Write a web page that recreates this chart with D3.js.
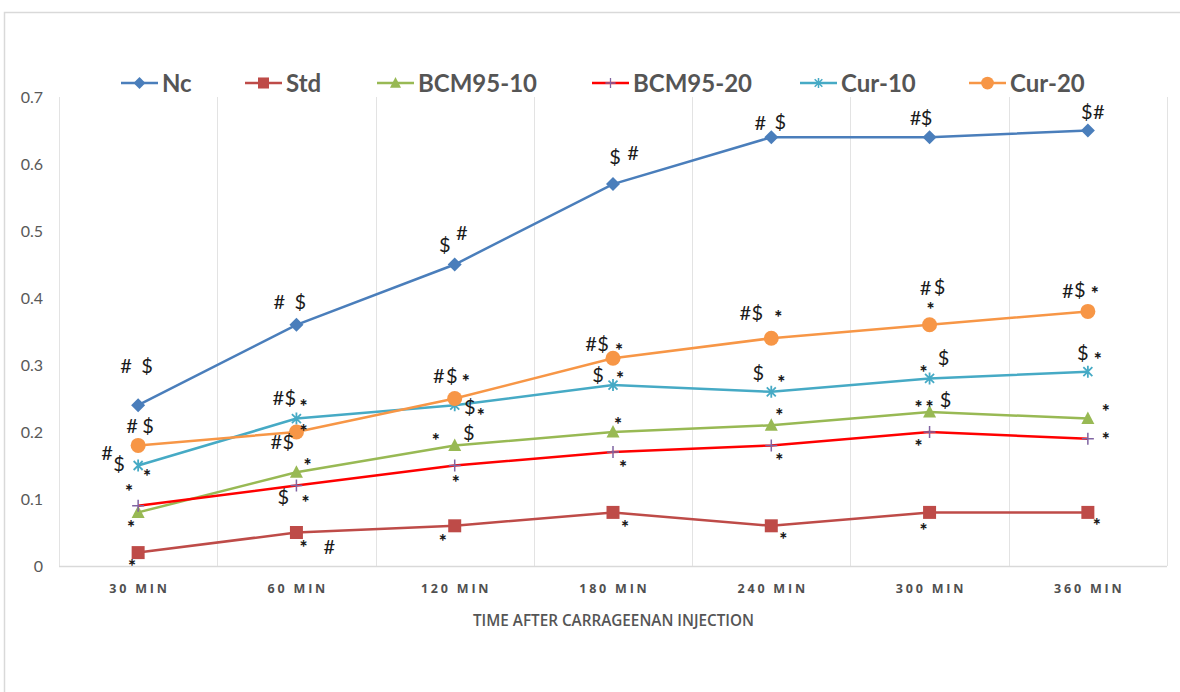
<!DOCTYPE html>
<html>
<head>
<meta charset="utf-8">
<script src="https://cdn.jsdelivr.net/npm/d3@7"></script>
<style>
  body { margin: 0; background: #fff; }
  .tick-y { font-family: Lato, "Open Sans", sans-serif; font-size: 16px; fill: #595959; }
  .tick-x { font-family: "Open Sans", Lato, sans-serif; font-size: 12.5px; font-weight: bold; fill: #505050; letter-spacing: 2.8px; }
  .axis-title { font-family: "Open Sans", Lato, sans-serif; font-size: 16px; font-weight: 600; fill: #555; }
  .legend-text { font-family: Lato, "Open Sans", sans-serif; font-size: 24px; font-weight: bold; fill: #555; }
  .note { font-family: Lato, "Open Sans", sans-serif; font-size: 20px; fill: #1a1a1a; }
  .note.star { font-size: 19px; font-weight: 900; }
</style>
</head>
<body>
<div class="chart"></div>
<script>
var svgWidth = 1180;
var svgHeight = 692;

// chart data
var categories = ["30 MIN", "60 MIN", "120 MIN", "180 MIN", "240 MIN", "300 MIN", "360 MIN"];
var seriesNames = ["Nc", "Std", "BCM95-10", "BCM95-20", "Cur-10", "Cur-20"];
var ncValues      = [0.24, 0.36, 0.45, 0.57, 0.64, 0.64, 0.65];
var stdValues     = [0.02, 0.05, 0.06, 0.08, 0.06, 0.08, 0.08];
var bcm10Values   = [0.08, 0.14, 0.18, 0.20, 0.21, 0.23, 0.22];
var bcm20Values   = [0.09, 0.12, 0.15, 0.17, 0.18, 0.20, 0.19];
var cur10Values   = [0.15, 0.22, 0.24, 0.27, 0.26, 0.28, 0.29];
var cur20Values   = [0.18, 0.20, 0.25, 0.31, 0.34, 0.36, 0.38];
var yTicks = [0, 0.1, 0.2, 0.3, 0.4, 0.5, 0.6, 0.7];
var xTitle = "TIME AFTER CARRAGEENAN INJECTION";

// significance marks: [series index, category index, symbol, dx, dy] (offset in px from the point)
var notes = [
  [0,0,"#",-12,-39],[0,0,"$",9,-39],
  [5,0,"#",-6,-20],[5,0,"$",10,-20],
  [4,0,"#",-31,-13],[4,0,"$",-19,-2],[4,0,"*",9,6],
  [3,0,"*",-9,-19],
  [2,0,"*",-7,10],
  [1,0,"*",-6,9],

  [0,1,"#",-17,-23],[0,1,"$",4,-23],
  [4,1,"#",-18,-21],[4,1,"$",-6,-21],[4,1,"*",7,-17],
  [5,1,"#",-20,10],[5,1,"$",-8,10],[5,1,"*",7,-5],
  [2,1,"*",11,-12],
  [3,1,"$",-13,11],[3,1,"*",9,12],
  [1,1,"*",7,10],[1,1,"#",33,14],

  [0,2,"$",-10,-20],[0,2,"#",7,-32],
  [5,2,"#",-16,-23],[5,2,"$",-3,-23],[5,2,"*",11,-22],
  [4,2,"$",15,2],[4,2,"*",26,5],
  [2,2,"*",-19,-10],[2,2,"$",14,-13],
  [3,2,"*",1,12],
  [1,2,"*",-12,11],

  [0,3,"$",2,-27],[0,3,"#",20,-31],
  [5,3,"#",-22,-15],[5,3,"$",-10,-15],[5,3,"*",6,-13],
  [4,3,"$",-15,-10],[4,3,"*",7,-12],
  [2,3,"*",5,-12],
  [3,3,"*",10,10],
  [1,3,"*",12,10],

  [0,4,"#",-11,-14],[0,4,"$",9,-15],
  [5,4,"#",-26,-25],[5,4,"$",-14,-25],[5,4,"*",7,-26],
  [4,4,"$",-13,-19],[4,4,"*",10,-14],
  [2,4,"*",8,-15],
  [3,4,"*",8,10],
  [1,4,"*",12,9],

  [0,5,"#",-14,-19],[0,5,"$",-3,-19],
  [5,5,"#",-4,-37],[5,5,"$",10,-38],[5,5,"*",1,-20],
  [4,5,"*",-6,-11],[4,5,"$",14,-21],
  [2,5,"*",-11,-9],[2,5,"*",0,-9],[2,5,"$",16,-12],
  [3,5,"*",-11,10],
  [1,5,"*",-6,13],

  [0,6,"$",-1,-19],[0,6,"#",11,-19],
  [5,6,"#",-20,-21],[5,6,"$",-8,-22],[5,6,"*",7,-23],
  [4,6,"$",-5,-19],[4,6,"*",10,-17],
  [2,6,"*",18,-12],
  [3,6,"*",18,-4],
  [1,6,"*",9,8]
];

var seriesValues = [ncValues, stdValues, bcm10Values, bcm20Values, cur10Values, cur20Values];
var lineColors = ["#4A7EBB", "#BE4B48", "#98B954", "#FF0000", "#46AAC5", "#F79646"];
var legendX = [121, 245, 377, 592, 800, 969];

var markerPaths = {
  diamond: "M0,-7L7,0L0,7L-7,0Z",
  square: "M-6.5,-6.5H6.5V6.5H-6.5Z",
  triangle: "M0,-7L6.5,5.5L-6.5,5.5Z",
  plus: "M-6,0H6M0,-6V6",
  star: "M-4.5,-4.5L4.5,4.5M-4.5,4.5L4.5,-4.5M0,-6V6"
};
var markers = [
  { path: markerPaths.diamond, fill: "#4A7EBB", stroke: "none" },
  { path: markerPaths.square, fill: "#BE4B48", stroke: "none" },
  { path: markerPaths.triangle, fill: "#98B954", stroke: "none" },
  { path: markerPaths.plus, fill: "none", stroke: "#8064A2", width: 1.5 },
  { path: markerPaths.star, fill: "none", stroke: "#46AAC5", width: 1.8 },
  { circle: 7.5, fill: "#F79646", stroke: "none" }
];

var margin = { top: 97, left: 59, right: 13, bottom: 126 };
var width = svgWidth - margin.left - margin.right;
var height = svgHeight - margin.top - margin.bottom;

var svg = d3.select(".chart")
  .append("svg")
  .attr("width", svgWidth)
  .attr("height", svgHeight);

// outer chart border (only top and left edges show)
svg.append("path")
  .attr("d", "M4.5," + svgHeight + "V12.5H" + svgWidth)
  .attr("fill", "none")
  .attr("stroke", "#d9d9d9")
  .attr("stroke-width", 1.5);

var chart = svg.append("g")
  .attr("transform", "translate(" + margin.left + "," + margin.top + ")");

var xBand = d3.scaleBand().domain(categories).range([0, width]);
var yLinearScale = d3.scaleLinear().domain([0, 0.7]).range([height, 0]);

function xCenter(i) {
  return xBand(categories[i]) + xBand.bandwidth() / 2;
}

// vertical gridlines at category boundaries
var bounds = categories.map(function(c) { return xBand(c); }).concat([width]);
chart.selectAll(".vgrid")
  .data(bounds)
  .enter()
  .append("line")
  .attr("class", "vgrid")
  .attr("x1", function(d) { return Math.round(d) + 0.5; })
  .attr("x2", function(d) { return Math.round(d) + 0.5; })
  .attr("y1", 0)
  .attr("y2", height)
  .attr("stroke", "#e3e3e3")
  .attr("stroke-width", 1);

// x axis line
chart.append("line")
  .attr("x1", 0).attr("x2", width)
  .attr("y1", height + 0.5).attr("y2", height + 0.5)
  .attr("stroke", "#d9d9d9")
  .attr("stroke-width", 1.5);

// y tick labels
chart.selectAll(".tick-y")
  .data(yTicks)
  .enter()
  .append("text")
  .attr("class", "tick-y")
  .attr("x", -16)
  .attr("y", function(d) { return yLinearScale(d); })
  .attr("dy", "0.36em")
  .attr("text-anchor", "end")
  .text(function(d) { return d3.format("")(d); });

// x tick labels
chart.selectAll(".tick-x")
  .data(categories)
  .enter()
  .append("text")
  .attr("class", "tick-x")
  .attr("x", function(d, i) { return xCenter(i) + 1.4; })
  .attr("y", height + 27)
  .attr("text-anchor", "middle")
  .text(function(d) { return d; });

chart.append("text")
  .attr("class", "axis-title")
  .attr("x", width / 2 - 140)
  .attr("y", height + 60)
  .attr("textLength", 281)
  .attr("lengthAdjust", "spacingAndGlyphs")
  .text(xTitle);

// lines
var line = d3.line()
  .x(function(d, i) { return xCenter(i); })
  .y(function(d) { return yLinearScale(d); });

function drawMarker(sel, m) {
  if (m.circle) {
    sel.append("circle").attr("r", m.circle).attr("fill", m.fill);
  } else {
    sel.append("path")
      .attr("d", m.path)
      .attr("fill", m.fill)
      .attr("stroke", m.stroke)
      .attr("stroke-width", m.width || 0);
  }
}

seriesValues.forEach(function(values, s) {
  var g = chart.append("g").attr("class", "series");
  g.append("path")
    .datum(values)
    .attr("d", line)
    .attr("fill", "none")
    .attr("stroke", lineColors[s])
    .attr("stroke-width", 2.5);

  values.forEach(function(v, i) {
    var mg = g.append("g")
      .attr("transform", "translate(" + xCenter(i) + "," + yLinearScale(v) + ")");
    drawMarker(mg, markers[s]);
  });
});

// significance symbols
chart.selectAll(".note")
  .data(notes)
  .enter()
  .append("text")
  .attr("class", function(d) { return d[2] === "*" ? "note star" : "note"; })
  .attr("x", function(d) { return xCenter(d[1]) + d[3]; })
  .attr("y", function(d) { return yLinearScale(seriesValues[d[0]][d[1]]) + d[4]; })
  .attr("dy", function(d) { return d[2] === "*" ? "0.6em" : "0.36em"; })
  .attr("text-anchor", "middle")
  .text(function(d) { return d[2]; });

// legend
var legend = svg.append("g").attr("class", "legend");
seriesNames.forEach(function(name, s) {
  var lg = legend.append("g").attr("transform", "translate(" + legendX[s] + ",83)");
  lg.append("line")
    .attr("x1", 0).attr("x2", 37)
    .attr("stroke", lineColors[s])
    .attr("stroke-width", 2.5);
  var mg = lg.append("g").attr("transform", "translate(18.5,0) scale(0.85)");
  drawMarker(mg, markers[s]);
  lg.append("text")
    .attr("class", "legend-text")
    .attr("x", 41)
    .attr("dy", "0.36em")
    .text(name);
});
</script>
</body>
</html>
